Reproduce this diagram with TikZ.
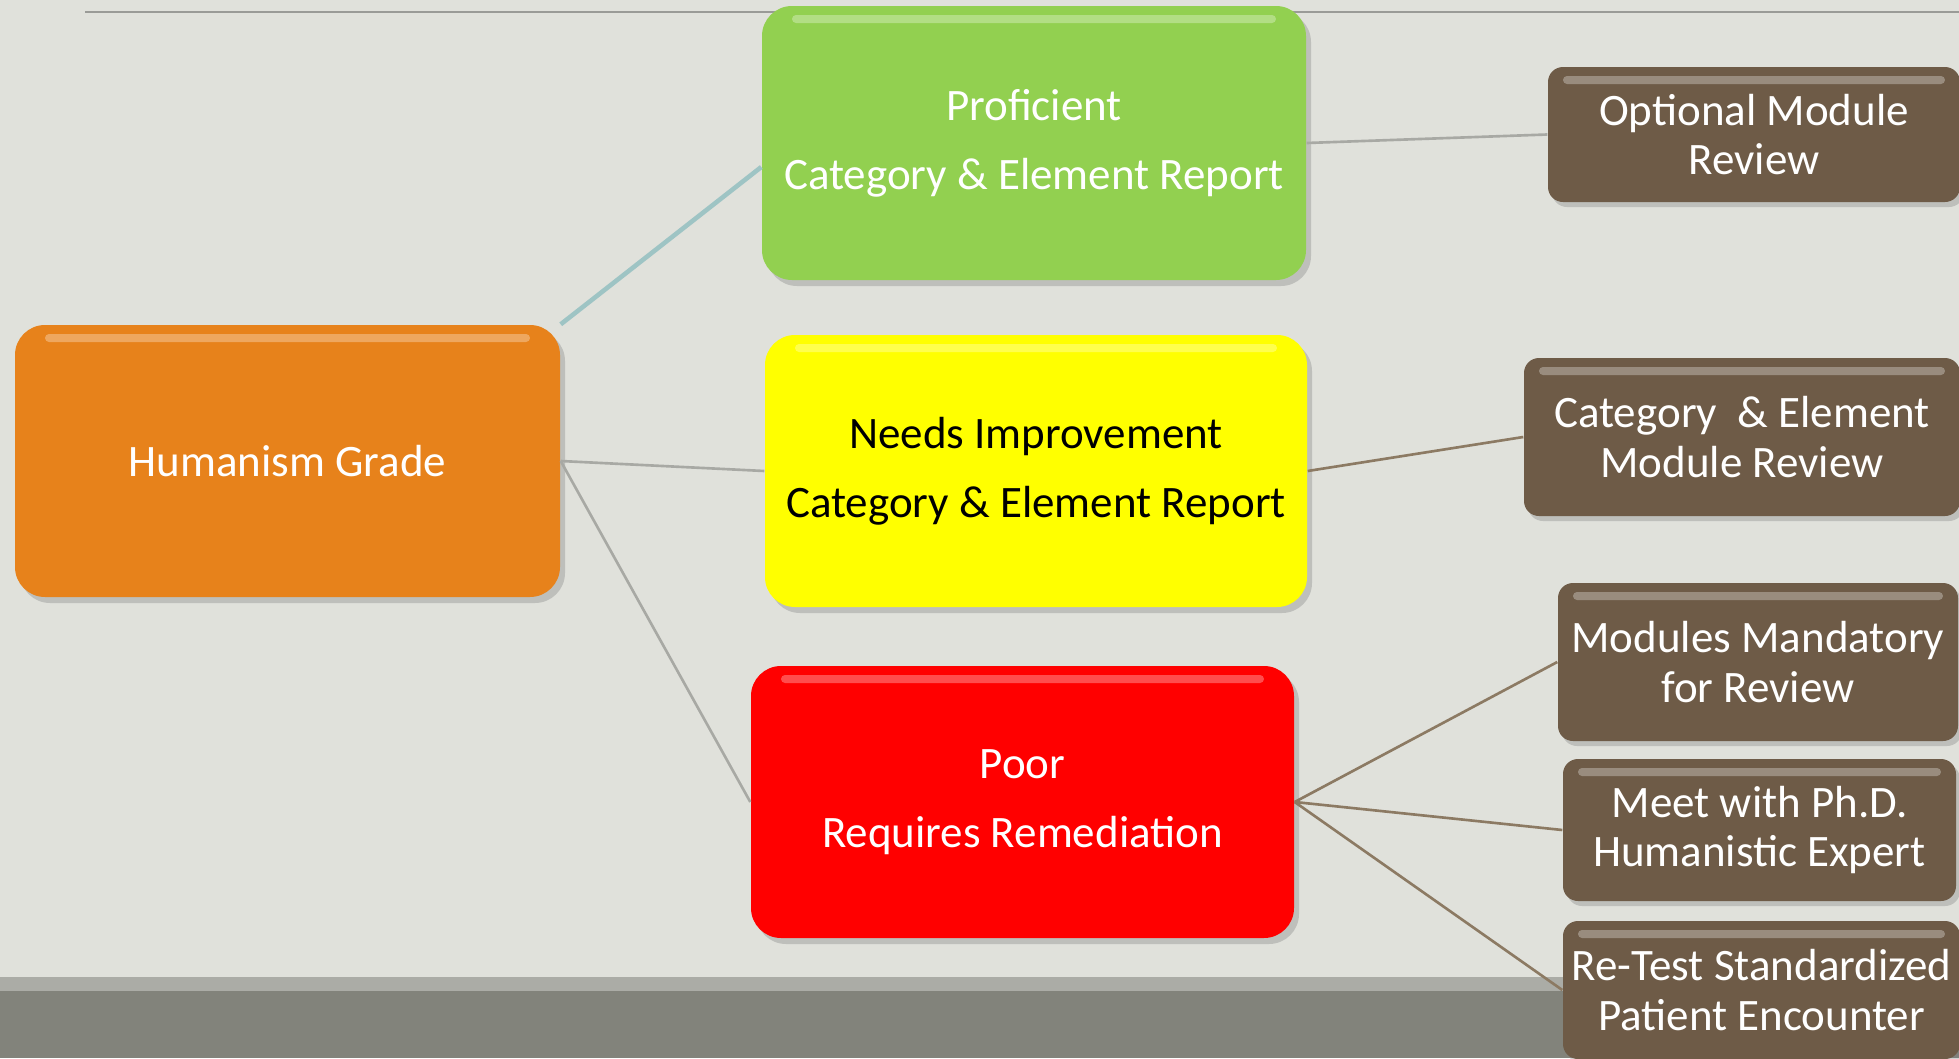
\documentclass[tikz,border=0pt]{standalone}
\usepackage{fontspec}
\setmainfont{Carlito}
\usepackage{tikz}
\usetikzlibrary{positioning,shadows}

\definecolor{bgcol}{HTML}{E0E1DB}
\definecolor{bandlight}{HTML}{ABACA6}
\definecolor{banddark}{HTML}{82837B}
\definecolor{rulegray}{HTML}{9A9B97}
\definecolor{gradeorange}{HTML}{E7821B}
\definecolor{profgreen}{HTML}{92D050}
\definecolor{needsyellow}{HTML}{FFFF00}
\definecolor{poorred}{HTML}{FF0000}
\definecolor{modbrown}{HTML}{6E5B47}
\definecolor{linkteal}{HTML}{9EC4C4}
\definecolor{linkgray}{HTML}{A8A9A4}
\definecolor{linkbrown}{HTML}{8C7A63}

\tikzset{
  gloss/.style={path picture={
      \fill[white,opacity=0.3,rounded corners=0.4mm]
        ([xshift=#1,yshift=-0.9mm]path picture bounding box.north west) rectangle
        ([xshift=-#1,yshift=-1.7mm]path picture bounding box.north east);}},
  gradebox/.style={rectangle, rounded corners=3mm, minimum width=5.44cm,
      minimum height=2.72cm, align=center, text=white,
      font=\fontsize{12.8}{19.6}\selectfont,
      drop shadow={shadow xshift=0.5mm, shadow yshift=-0.6mm, opacity=0.35},
      gloss=3mm},
  modbox/.style={rectangle, rounded corners=1.5mm, fill=modbrown,
      minimum height=1.42cm, inner sep=1pt, align=center, text=white,
      font=\fontsize{12.8}{14.2}\selectfont,
      drop shadow={shadow xshift=0.4mm, shadow yshift=-0.5mm, opacity=0.35},
      gloss=1.5mm},
  link/.style={draw=linkgray, line width=0.75pt},
}

\begin{document}
\begin{tikzpicture}
    \useasboundingbox (0,0) rectangle (19.59,10.58);
    \fill[bgcol]     (0,0)    rectangle (19.59,10.58);
    \fill[bandlight] (0,0.67) rectangle (19.59,0.81);
    \fill[banddark]  (0,0)    rectangle (19.59,0.67);
    \draw[rulegray, line width=0.6pt] (0.85,10.46) -- (19.59,10.46);

    % grades
    \node[gradebox, fill=gradeorange, minimum width=5.45cm] (grade) at (2.875,5.97) {Humanism Grade};
    \node[gradebox, fill=profgreen, minimum height=2.74cm]  (prof)  at (10.34,9.15)
        {Proficient\\Category \& Element Report};
    \node[gradebox, fill=needsyellow, text=black, minimum width=5.42cm] (needs) at (10.36,5.87)
        {Needs Improvement\\Category \& Element Report};
    \node[gradebox, fill=poorred, minimum width=5.43cm] (poor) at (10.225,2.56)
        {Poor\\Requires Remediation};

    % follow-up
    \node[modbox, minimum width=4.12cm, minimum height=1.35cm] (opt)    at (17.54,9.235) {Optional Module\\Review};
    \node[modbox, minimum width=4.36cm, minimum height=1.58cm] (catrev) at (17.42,6.21)  {Category\ \ \& Element\\Module Review};
    \node[modbox, minimum width=4.00cm, minimum height=1.58cm] (mand)   at (17.58,3.96)  {Modules Mandatory\\for Review};
    \node[modbox, minimum width=3.93cm]                        (meet)   at (17.595,2.28) {Meet with Ph.D.\\Humanistic Expert};
    \node[modbox, minimum width=3.97cm, minimum height=1.38cm] (retest) at (17.615,0.68) {Re-Test Standardized\\Patient Encounter};

    \path[link]
    (grade.east) edge (needs.west)
    (grade.east) edge (poor.west)
    (prof.east)  edge (opt.west);
    \draw[linkteal, line width=1.3pt] (grade.north east) -- ([yshift=-2.4mm]prof.west);

    \path[link, draw=linkbrown]
    (needs.east) edge (catrev.west)
    (poor.east)  edge (mand.west)
    (poor.east)  edge (meet.west)
    (poor.east)  edge (retest.west);
\end{tikzpicture}
\end{document}
